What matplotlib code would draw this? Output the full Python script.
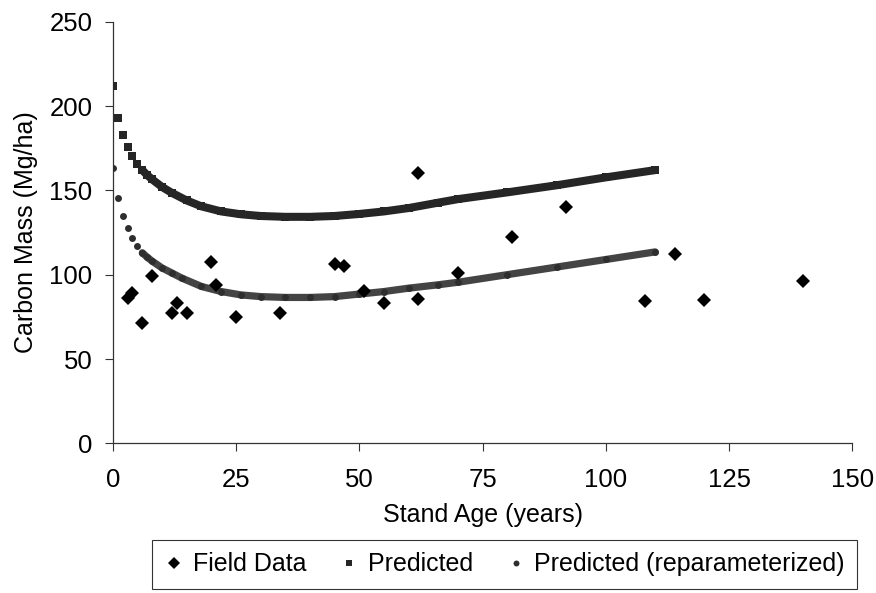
import matplotlib
matplotlib.use('Agg')
import matplotlib.pyplot as plt
import numpy as np

plt.rcParams['font.family'] = ['Liberation Sans', 'DejaVu Sans']

# field measurements
field_age = [3, 4, 6, 8, 12, 13, 15, 20, 21, 25, 34, 45, 47, 51, 55, 62, 62, 70, 81, 92, 108, 114, 120, 140]
field_c = [86, 89, 71.5, 99, 77, 83.5, 77, 107.5, 94, 75, 77.5, 106.5, 105, 90.5, 83, 160.5, 85.5, 101, 122.5, 140,
           84.5, 112.5, 85, 96]

# predicted curve
pred_age = [0, 1, 2, 3, 4, 5, 6, 7, 8, 10, 12, 15, 18, 22, 26, 30, 35, 40, 45, 50, 55, 60, 66, 70, 80, 90, 100, 110]
pred_c = [212, 193, 183, 176, 170.5, 165.5, 162, 159, 156.5, 152, 148.5, 144, 140.5, 137.5, 135.8, 134.8, 134.3,
          134.3, 134.8, 136, 137.5, 139.5, 142.7, 144.8, 148.8, 153, 157.7, 162]

# reparameterized curve
rep_age = [0, 1, 2, 3, 4, 5, 6, 7, 8, 10, 12, 14, 18, 22, 26, 30, 35, 40, 45, 50, 55, 60, 66, 70, 80, 90, 100, 110]
rep_c = [163, 145.5, 135, 127.5, 122, 117, 113, 110.3, 108, 104, 101, 98, 93, 90, 88, 87, 86.5, 86.5, 87, 88.5, 90,
         92, 94, 95.5, 100, 104.5, 109, 113.5]

x_ticks = [0, 25, 50, 75, 100, 125, 150]
y_ticks = [0, 50, 100, 150, 200, 250]

fig = plt.figure(figsize=(8.76, 5.93), dpi=100)
ax = fig.add_axes([0.1287, 0.2524, 0.8443, 0.7110])

pa = np.array(pred_age)
pc = np.array(pred_c)
ra = np.array(rep_age)
rc = np.array(rep_c)

# dense parts of the curves look like thick bands
ax.plot(pa[pa >= 6], pc[pa >= 6], color='#262626', lw=5.8, solid_capstyle='round', zorder=2)
ax.plot(ra[ra >= 6], rc[ra >= 6], color='#444444', lw=5.2, solid_capstyle='round', zorder=2)

ax.plot(pa, pc, ls='none', marker='s', ms=5.4, color='#262626', mew=0, label='Predicted', zorder=3)
ax.plot(ra, rc, ls='none', marker='o', ms=5.0, color='#2e2e2e', mew=0, label='Predicted (reparameterized)',
        zorder=3)
ax.plot(field_age, field_c, ls='none', marker='D', ms=7, color='black', mew=0, label='Field Data', zorder=4)

ax.set_xlim(0, 150)
ax.set_ylim(0, 250)
ax.set_xticks(x_ticks)
ax.set_yticks(y_ticks)
ax.tick_params(axis='both', labelsize=18.5, length=6, width=0.8, color='#333333', direction='out')
ax.tick_params(axis='x', pad=12)
ax.tick_params(axis='y', pad=8.5)

for s in ['top', 'right']:
    ax.spines[s].set_visible(False)
for s in ['left', 'bottom']:
    ax.spines[s].set_color('#333333')
    ax.spines[s].set_linewidth(0.9)

ax.set_xlabel('Stand Age (years)', fontsize=18, labelpad=8)
ax.set_ylabel('Carbon Mass (Mg/ha)', fontsize=18, labelpad=8)

handles, labels = ax.get_legend_handles_labels()
order = [2, 0, 1]
leg = fig.legend([handles[i] for i in order], [labels[i] for i in order], loc='upper left',
                 bbox_to_anchor=(0.1735, 0.0894), borderaxespad=0, ncol=3, fontsize=18, frameon=True,
                 fancybox=False, edgecolor='black', handlelength=0.8, handletextpad=0.35, columnspacing=1.3,
                 borderpad=0.5, markerscale=0.85)
leg.get_frame().set_linewidth(0.8)

fig.savefig('out.png', dpi=100)
